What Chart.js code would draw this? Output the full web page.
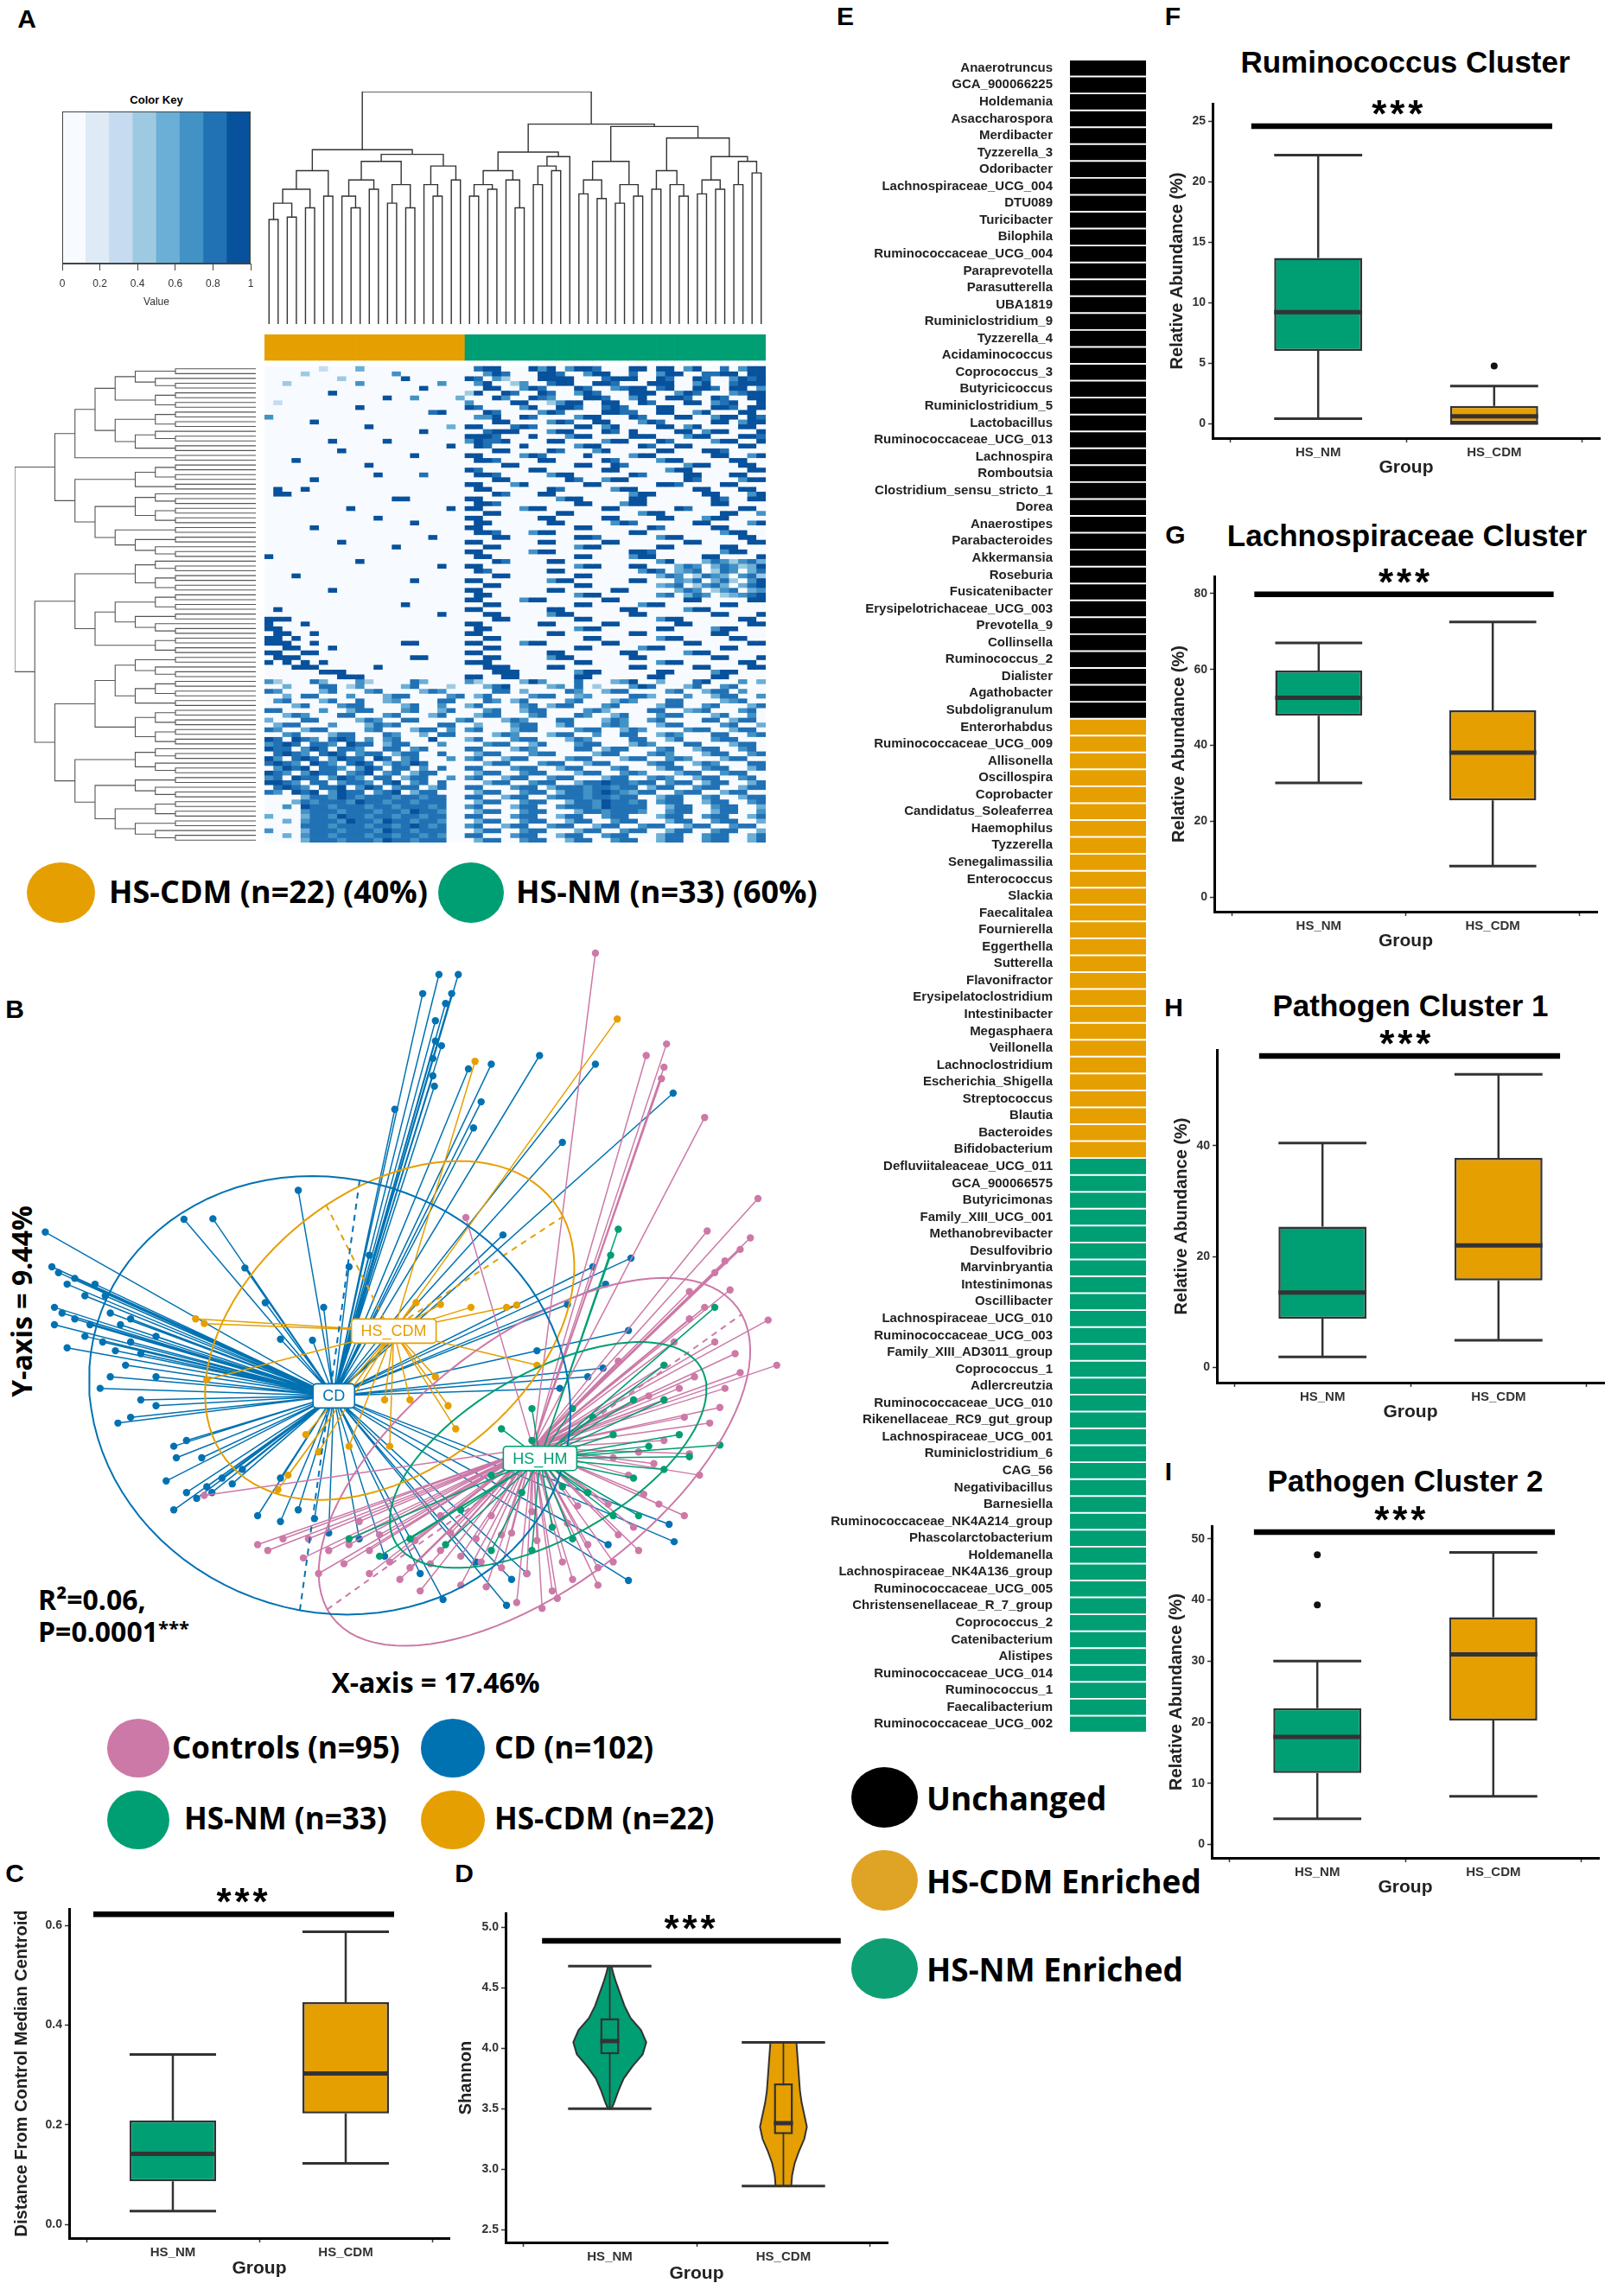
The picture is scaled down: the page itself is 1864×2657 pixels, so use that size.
<!DOCTYPE html>
<html lang="en">
<head>
<meta charset="utf-8">
<title>HS-CDM / HS-NM microbiome figure</title>
<script src="https://cdn.jsdelivr.net/npm/chart.js@4.4.1/dist/chart.umd.min.js"></script>
<style>
  html, body { margin: 0; padding: 0; background: #fff; }
  body { position: relative; width: 1864px; height: 2657px; overflow: hidden;
         font-family: "Liberation Sans", Arial, sans-serif; color: #000; }
  .t { position: absolute; white-space: nowrap; line-height: 1; }
  .letter { font-weight: bold; font-size: 30px; transform: translate(-50%, -50%); }
  .title { font-weight: bold; font-size: 35px; transform: translate(-50%, -50%); }
  .leg { font-family: "Open Sans", sans-serif; font-weight: 700; transform: translateY(-50%); }
  .dot { position: absolute; border-radius: 50%; }
</style>
</head>
<body>

<!-- panel letters -->
<div class="t letter" style="left:31px;top:22px">A</div>
<div class="t letter" style="left:17px;top:1168px">B</div>
<div class="t letter" style="left:17px;top:2168px">C</div>
<div class="t letter" style="left:537px;top:2168px">D</div>
<div class="t letter" style="left:978px;top:19px">E</div>
<div class="t letter" style="left:1357px;top:19px">F</div>
<div class="t letter" style="left:1360px;top:619px">G</div>
<div class="t letter" style="left:1358px;top:1166px">H</div>
<div class="t letter" style="left:1352px;top:1703px">I</div>

<!-- titles F-I -->
<div class="t title" style="left:1626px;top:71px">Ruminococcus Cluster</div>
<div class="t title" style="left:1628px;top:619px">Lachnospiraceae Cluster</div>
<div class="t title" style="left:1632px;top:1163px">Pathogen Cluster 1</div>
<div class="t title" style="left:1626px;top:1713px">Pathogen Cluster 2</div>

<!-- A: key title + legend -->
<div class="t" style="left:181px;top:115px;font-weight:bold;font-size:13px;transform:translate(-50%,-50%)">Color Key</div>
<div class="dot" style="left:31px;top:998px;width:79px;height:70px;background:#E69F00"></div>
<div class="t leg" style="left:126px;top:1032px;font-size:36px">HS-CDM (n=22) (40%)</div>
<div class="dot" style="left:507px;top:998px;width:76px;height:70px;background:#009E73"></div>
<div class="t leg" style="left:597px;top:1032px;font-size:36px">HS-NM (n=33) (60%)</div>

<!-- B: axis notes + legend -->
<div class="t leg" style="left:25px;top:1506px;font-size:32px;transform:translate(-50%,-50%) rotate(-90deg)">Y-axis = 9.44%</div>
<div class="t leg" style="left:504px;top:1947px;font-size:32px;transform:translate(-50%,-50%)">X-axis = 17.46%</div>
<div class="t leg" style="left:44px;top:1851px;font-size:32px">R²=0.06,</div>
<div class="t leg" style="left:44px;top:1888px;font-size:32px">P=0.0001<span style="font-size:22px;vertical-align:top">***</span></div>

<div class="dot" style="left:124px;top:1989px;width:72px;height:68px;background:#CC79A7"></div>
<div class="t leg" style="left:199px;top:2021px;font-size:35px">Controls (n=95)</div>
<div class="dot" style="left:487px;top:1989px;width:74px;height:68px;background:#0072B2"></div>
<div class="t leg" style="left:572px;top:2021px;font-size:35px">CD (n=102)</div>
<div class="dot" style="left:124px;top:2072px;width:72px;height:68px;background:#009E73"></div>
<div class="t leg" style="left:213px;top:2103px;font-size:35px">HS-NM (n=33)</div>
<div class="dot" style="left:487px;top:2072px;width:74px;height:68px;background:#E69F00"></div>
<div class="t leg" style="left:572px;top:2103px;font-size:35px">HS-CDM (n=22)</div>

<!-- E legend -->
<div class="dot" style="left:985px;top:2045px;width:77px;height:70px;background:#000"></div>
<div class="t leg" style="left:1072px;top:2080px;font-size:37px">Unchanged</div>
<div class="dot" style="left:985px;top:2141px;width:77px;height:70px;background:#DFA326"></div>
<div class="t leg" style="left:1072px;top:2176px;font-size:37px">HS-CDM Enriched</div>
<div class="dot" style="left:985px;top:2243px;width:77px;height:70px;background:#0E9E74"></div>
<div class="t leg" style="left:1072px;top:2278px;font-size:37px">HS-NM Enriched</div>

<script>
/* =========================================================
    DATA
========================================================= */

// groups of the box / violin panels
const groupNames = ["HS_NM", "HS_CDM"];
const groupColors = ["#009E73", "#E69F00"];

// [lower whisker, Q1, median, Q3, upper whisker]
const rumStats = [[0.4, 6.0, 9.2, 13.7, 22.2], [0.0, 0.05, 0.6, 1.45, 3.1]];
const rumOutliers = [[], [4.75]];
const rumTicks = [0, 5, 10, 15, 20, 25];

const lachStats = [[30.1, 47.8, 52.5, 59.7, 67.0], [8.2, 25.5, 38.1, 49.2, 72.5]];
const lachTicks = [0, 20, 40, 60, 80];

const path1Stats = [[1.9, 8.8, 13.5, 25.4, 40.5], [4.9, 15.7, 22.0, 37.8, 52.9]];
const path1Ticks = [0, 20, 40];

const path2Stats = [[4.2, 11.7, 17.6, 22.3, 30.0], [7.9, 20.3, 31.1, 37.2, 47.8]];
const path2Outliers = [[47.4, 39.2], []];
const path2Ticks = [0, 10, 20, 30, 40, 50];

const distStats = [[0.027, 0.087, 0.142, 0.209, 0.341], [0.123, 0.223, 0.303, 0.446, 0.587]];
const distTicks = [0, 0.2, 0.4, 0.6];

const shannonStats = [[3.50, 3.95, 4.06, 4.25, 4.68], [2.86, 3.29, 3.38, 3.71, 4.05]];
const shannonTicks = [2.5, 3.0, 3.5, 4.0, 4.5, 5.0];

// violin outlines: Shannon value and half width
const nmViolinY = [3.50, 3.55, 3.65, 3.75, 3.85, 3.95, 4.05, 4.15, 4.25, 4.35, 4.45, 4.55, 4.62, 4.68];
const nmViolinW = [0.01, 0.025, 0.05, 0.08, 0.13, 0.19, 0.21, 0.18, 0.12, 0.085, 0.06, 0.035, 0.02, 0.01];
const cdmViolinY = [2.86, 2.95, 3.05, 3.15, 3.25, 3.35, 3.45, 3.55, 3.65, 3.75, 3.85, 3.95, 4.05];
const cdmViolinW = [0.045, 0.05, 0.065, 0.09, 0.12, 0.135, 0.12, 0.105, 0.095, 0.09, 0.085, 0.08, 0.075];

// E: genus lists per enrichment class
const unchangedGenera = ["Anaerotruncus", "GCA_900066225", "Holdemania", "Asaccharospora", "Merdibacter",
  "Tyzzerella_3", "Odoribacter", "Lachnospiraceae_UCG_004", "DTU089", "Turicibacter", "Bilophila",
  "Ruminococcaceae_UCG_004", "Paraprevotella", "Parasutterella", "UBA1819", "Ruminiclostridium_9",
  "Tyzzerella_4", "Acidaminococcus", "Coprococcus_3", "Butyricicoccus", "Ruminiclostridium_5",
  "Lactobacillus", "Ruminococcaceae_UCG_013", "Lachnospira", "Romboutsia", "Clostridium_sensu_stricto_1",
  "Dorea", "Anaerostipes", "Parabacteroides", "Akkermansia", "Roseburia", "Fusicatenibacter",
  "Erysipelotrichaceae_UCG_003", "Prevotella_9", "Collinsella", "Ruminococcus_2", "Dialister",
  "Agathobacter", "Subdoligranulum"];
const cdmEnrichedGenera = ["Enterorhabdus", "Ruminococcaceae_UCG_009", "Allisonella", "Oscillospira",
  "Coprobacter", "Candidatus_Soleaferrea", "Haemophilus", "Tyzzerella", "Senegalimassilia",
  "Enterococcus", "Slackia", "Faecalitalea", "Fournierella", "Eggerthella", "Sutterella",
  "Flavonifractor", "Erysipelatoclostridium", "Intestinibacter", "Megasphaera", "Veillonella",
  "Lachnoclostridium", "Escherichia_Shigella", "Streptococcus", "Blautia", "Bacteroides",
  "Bifidobacterium"];
const nmEnrichedGenera = ["Defluviitaleaceae_UCG_011", "GCA_900066575", "Butyricimonas",
  "Family_XIII_UCG_001", "Methanobrevibacter", "Desulfovibrio", "Marvinbryantia", "Intestinimonas",
  "Oscillibacter", "Lachnospiraceae_UCG_010", "Ruminococcaceae_UCG_003", "Family_XIII_AD3011_group",
  "Coprococcus_1", "Adlercreutzia", "Ruminococcaceae_UCG_010", "Rikenellaceae_RC9_gut_group",
  "Lachnospiraceae_UCG_001", "Ruminiclostridium_6", "CAG_56", "Negativibacillus", "Barnesiella",
  "Ruminococcaceae_NK4A214_group", "Phascolarctobacterium", "Holdemanella",
  "Lachnospiraceae_NK4A136_group", "Ruminococcaceae_UCG_005", "Christensenellaceae_R_7_group",
  "Coprococcus_2", "Catenibacterium", "Alistipes", "Ruminococcaceae_UCG_014", "Ruminococcus_1",
  "Faecalibacterium", "Ruminococcaceae_UCG_002"];

// A: heatmap, 22 HS-CDM columns then 33 HS-NM columns, one digit (colour-key bin 0-7) per cell
const nCdmCols = 22, nNmCols = 33;
const heatRows = [
  "0000002000400000000000067700075705776000770770570060577",
  "0000300000000050000000005760007760057700600577006677077",
  "0000000030000007000000760530007777000677700760076005767",
  "0030000000500000000500057003500677007760007770057006777",
  "0000000000000000070000007700576000760056770670077607705",
  "0000000700000000000000370076007600576000777005760005677",
  "0000000000000700500004000750076500077600570077600760077",
  "0200000000000000000000500007700357700770076000770567007",
  "0000000000700000000000760000570077600676000770000776077",
  "0000000000000000006700007600005760000776600770057000770",
  "5000000000000000000000055700760000577000760007700577076",
  "0000070000000000000000000770000576007700057600000770577",
  "0000000000070000000040770006760000770570000770570000770",
  "0000000000000000070000006777000577000760700007705770007",
  "0000000000000000000000777600070005770000777000577000776",
  "0000000700000700000000576670000770000577000760000577007",
  "0000000000000000000070076000700000577000076007700000770",
  "0000000070000000000000000770000760005700000770007760000",
  "0000000000000000700000770000576000070000577000000770057",
  "0007000000000000000000077600007700000760000577000007700",
  "0000000000070000000000000077000000770076000000577000770",
  "0000000000000000000000760000077000000770000057700000077",
  "0000000000007000060000077600000577000000760000770007700",
  "0000070000000000000000000770000007600577000000760000577",
  "0000000000000000000000770005700000077000000776000077000",
  "0700700000000000000000077000000760000057700000077000770",
  "0770000000000000000000000760007700000000577000007700057",
  "0000000000000077000000770000000057700000770000000760077",
  "0000000000000000000000077600000000770005770000000770000",
  "0000000007000000000070770000577000000770000007600000770",
  "0000000000000000000000007700000077000000057700000077005",
  "0000000000007000000000770000007700000770000770005770000",
  "0000000000000000700000077000000770000057600000077000057",
  "0000070000000000000000770000000000770000007600000770000",
  "0000000000000000000000077600057700000000770000000057700",
  "0000000000000000007000000770000000776000000577000000770",
  "0000000070000000000000770000007700000770000000770000077",
  "0000000000000070000000007700000000577000000770000077000",
  "0000000000000000000000770000057700000000776000000057700",
  "7000000000000000000000077000000000770000577000007700007",
  "0000000000700000000000000760000770000000000570004653564",
  "0000000000000000000700770000000000577000770004650465347",
  "0000000000000000000000076000000770000000057604560365046",
  "0007000000000000000000000770000000770000000465036540563",
  "0000000000000000700000770000000577000000770005460463057",
  "0000000000000000000000007700000000770000000456035640467",
  "0000000700000000000000770000000770000077000004650356045",
  "0000000000000000000000077000000000577000000560465034567",
  "0000000000000000000000770000577000000770000000770000077",
  "0000000000000007000000007700000000770000057700000077000",
  "0700000000000000000000770000000770000007700000577000000",
  "0000000000000000000700007700000577000000770000000770007",
  "7770000000000000000000000770000000770000000577000000770",
  "7000700000000000000000770000007700000770000007700000077",
  "7700000000000000000000077000000000577000000770000577000",
  "0770070000000000000000770000000770000000770000000770000",
  "7707000000000000000000007700000000077000000577000007700",
  "7770070000000007700000770000577000000770000000770000077",
  "0077000700000000000000007700000000770000057700000077000",
  "7700770000000000000000770000000770000007700000577000000",
  "0777000000000000770000007700000577000000770000000770007",
  "7070707000000000000000777000000000770000000577000000770",
  "0007770000007000000000007770000770000000770000077000077",
  "0000007770000000000000000777000000577000000770000577000",
  "0000000077700000000000770077000000770000007700000770000",
  "5300064000530000640000530000475000600045700400067000504",
  "0040006603500004600030004670000450603000576000460056000",
  "6500004600056000046500000660400006500466000056004660500",
  "0040660005000466000056046000056600450000664000500466005",
  "0560004600600450000660006504600005600046500066000045600",
  "0004600056600004600500460000560466000560000466005600046",
  "6600005004660005600460005600466000056400006600456000560",
  "0046500066000560004600046600056000650046000566000460050",
  "4000660000465006600005600046500066000465005600006604660",
  "0466000500046560000660040005660046000565000466000056004",
  "6500466000056000466050560004660000566004650000566004660",
  "0056000466000650040660000465000466005006600465000660056",
  "7607650676050560007000460005660004650000660046000566000",
  "5676066507660466000500005660046000566000465000660004660",
  "7660576066500660560000660004650000660466000560046600560",
  "0676506760566046600600046600056600004660005650004660056",
  "7506760576607605600050560046600005660004660056500046600",
  "6765076506760465760000004660005660046600005660046500066",
  "0576706650576066050600660005660046600056000466005660046",
  "7650576605670560466000046600566000466005650004660056600",
  "5607660576506604660050560046600566000466005650046600560",
  "7765066056650670560600004660056600466766566056604660046",
  "0676506670576056604600660005660466656656604660056600466",
  "6507670576605670466000046600566046656765466005660046600",
  "0000466576566656656600660046600566656656600466005600466",
  "0004656665766566566600046600566004665766560566004660056",
  "0050766566656656665600560004660056665766660046600566004",
  "0000566656665665766500046600566000466566650056600466005",
  "4000466576656656656600660005660046600566000466005660046",
  "0040566657665766566500046600566004660056600046600566004",
  "0000666566656656765600560046600566004660056600466005660",
  "5000466656665766566600046600566000466005660046600566004",
  "0040566566656656656500660005660046600566000466005660046",
  "0000466656665766566600046600566004660056600466005660046"
];
const heatPalette = ["#F7FBFF", "#DEEBF7", "#C6DBEF", "#9ECAE1", "#6BAED6", "#4292C6", "#2171B5", "#08519C"];
const keyBins = [0.0625, 0.1875, 0.3125, 0.4375, 0.5625, 0.6875, 0.8125, 0.9375];
const keyTicks = [0, 0.2, 0.4, 0.6, 0.8, 1];

// A: column dendrogram [height, left, right], leaves = column index
const colTree = [1.0,
  [0.75,
    [0.66, [0.58, [0.52, [0.45, 0, 1], [0.46, 2, 3]], [0.50, 4, 5]], [0.55, 6, 7]],
    [0.73, [0.70, [0.62, [0.55, 8, [0.50, 9, 10]], [0.58, 11, 12]], [0.60, [0.52, 13, 14], [0.50, 15, 16]]],
           [0.68, [0.60, 17, [0.55, 18, 19]], [0.62, 20, 21]]]],
  [0.86,
    [0.74, [0.66, [0.60, [0.55, 22, 23], [0.58, 24, 25]], [0.62, 26, [0.50, 27, 28]]],
           [0.72, [0.68, [0.60, 29, 30], [0.66, 31, 32]], 33]],
    [0.85, [0.70, [0.62, [0.56, 34, 35], [0.54, 36, 37]], [0.60, [0.52, 38, 39], [0.55, 40, 41]]],
           [0.80, [0.66, [0.58, 42, 43], [0.60, 44, [0.55, 45, 46]]],
                  [0.72, [0.62, [0.56, 47, 48], [0.58, 49, 50]], [0.70, [0.60, 51, 52], [0.65, 53, 54]]]]]]
];
// A: row dendrogram topology, "." = one genus row
const rowTree =
  "((" +
  "(((((..)(.(..)))((..)(..)))(((..)(..))((.(..))(..))))(..))" +
  "((((..)(..))(..))(((.(..))((..)(..)))((..)((..)(.(..))))))" +
  ")(" +
  "(((.(..))((..)(..)))((((..)(..))((..)(.(..))))((..)(..))))" +
  "(" +
  "((((..)(.(..)))(((..)(..))(..)))(((..)(..))((..)(..))))" +
  "(((.(..))(.(..)))(((..)(.(..)))(((..)(..))((..)(.(..))))))" +
  ")))";

// B: ordination scores (x1000), [axis1, axis2]
const cdScores = [
  [207,728],[245,728],[175,695],[232,695],[220,678],[200,648],[200,613],[212,605],[195,583],[265,565],
  [310,573],[195,553],[198,535],[290,508],[120,495],[275,463],[405,588],[515,573],[668,523],[450,438],
  [-70,355],[70,243],[30,223],[-295,305],[-238,306],[-175,221],[-135,161],[-105,98],[-42,96],[-20,153],
  [333,278],[585,238],[510,223],[535,193],[460,158],[400,78],[580,113],[445,13],[530,48],[500,33],
  [-568,283],[-555,223],[-542,213],[-510,203],[-525,193],[-490,173],[-470,193],[-450,173],[-550,153],
  [-535,143],[-510,133],[-480,123],[-440,143],[-420,123],[-400,133],[-550,123],[-525,83],[-490,103],[-455,93],
  [-430,78],[-400,93],[-380,73],[-350,103],[-410,53],[-440,33],[-460,13],[-380,-7],
  [-350,33],[-425,-47],[-400,-37],[-350,-17],[-315,-87],[-310,-107],[-290,-77],[-260,-107],[-330,-147],[-290,-167],
  [-250,-157],[-220,-142],[-180,-127],[-315,-197],[-270,-177],[-240,-167],[-200,-152],[-105,-142],[-150,-207],[-105,-217],
  [-70,-197],[-38,-212],[-10,-237],[50,-247],[100,-277],[170,-307],[215,-352],[340,-362],[280,-287],[350,-317],
  [380,-307],[580,-319],[660,-222],[670,-252],[540,-257]
];
const ctrlScores = [
  [515,765],[655,608],[615,588],[650,568],[730,481],[645,548],[835,341],[735,285],[820,273],[800,253],
  [770,233],[750,213],[855,131],[872,53],[780,183],[730,153],[700,133],[670,93],[650,53],[750,93],
  [790,73],[710,33],[770,13],[650,-7],[690,-37],[740,-47],[650,-77],[600,-97],[550,-107],[720,-137],
  [690,-207],[640,-187],[590,-227],[600,-267],[550,-287],[520,-327],[470,-317],[430,-337],[380,-307],[330,-297],
  [290,-287],[250,-277],[210,-267],[170,-337],[150,-297],[110,-287],[70,-267],[30,-257],[-10,-267],[-50,-247],
  [-100,-247],[-130,-267],[-150,-257],[-255,-172],[260,308],[350,-237],[310,-207],[280,-247],[230,-237],[50,-217],
  [70,-307],[130,-317],[450,-287],[500,-257],[540,-187],[580,-137],[630,-117],[680,13],[410,-367],[360,-357],
  [250,-327],[-30,-307],[210,-207],[520,-297],[400,-250],[460,-220],[330,-240],[190,-290],[90,-240],[20,-290],
  [560,-240],[610,-170],[480,-190],[390,-200],[300,-330],[440,-350],[160,-250],[-60,-280],[700,-100],[760,-20],
  [800,40],[620,0],[560,60],[700,180]
];
const nmScores = [
  [560,288],[545,243],[750,153],[760,-85],[700,-105],[650,-127],[590,-142],[620,-87],[680,-67],[550,-67],
  [590,-7],[650,-7],[510,-37],[470,-22],[390,-22],[330,-57],[430,-227],[390,-267],[220,-257],[150,-247],
  [90,-277],[30,-247],[310,-267],[500,-167],[550,-207],[450,-157],[370,-167],[250,-197],[600,-207],[470,-247],
  [310,-137],[390,-77],[650,53]
];
const cdmScores = [
  [558,651],[278,578],[-272,133],[-255,125],[360,157],[340,153],[270,153],[210,158],[400,53],[162,161],
  [-250,28],[225,-17],[240,-57],[200,33],[150,-7],[100,-7],[110,-87],[30,-87],[-30,-97],[-110,-162],
  [-55,-67],[-90,-137]
];
const cdCentroid = [0, 0];
const cdmCentroid = [118, 112];
const nmCentroid = [406, -108];
const ctrlCentroid = [392, -90];
// ellipses: [centre x, centre y, semi-major, semi-minor, angle deg]
const cdEllipse = [-8, 1, 476, 376, -9];
const cdmEllipse = [110, 113, 394, 250, 30];
const ctrlEllipse = [395, -114, 481, 224, 32];
const nmEllipse = [422, -102, 337, 147, 25];

/* =========================================================
    HELPERS
========================================================= */

Chart.defaults.font.family = '"Liberation Sans", Arial, sans-serif';
Chart.defaults.color = "#222";
Chart.defaults.animation = false;
Chart.defaults.plugins.legend.display = false;
Chart.defaults.plugins.tooltip.enabled = false;

const GAP = () => ({ x: null, y: null });
const seg = (x1, y1, x2, y2) => [{ x: x1, y: y1 }, { x: x2, y: y2 }, GAP()];

function makeCanvas(left, top, w, h) {
  const c = document.createElement("canvas");
  c.width = w;
  c.height = h;
  c.style.cssText = `position:absolute;left:${left}px;top:${top}px;width:${w}px;height:${h}px`;
  document.body.appendChild(c);
  return c;
}

// "***" over the significance bar
const starsPlugin = {
  id: "stars",
  afterDatasetsDraw(chart, args, opts) {
    if (!opts || opts.x === undefined) return;
    const { ctx, scales: { x, y } } = chart;
    const px = x.getPixelForValue(opts.x), py = y.getPixelForValue(opts.y);
    ctx.save();
    ctx.fillStyle = "#000";
    ctx.font = 'bold 44px "Liberation Sans", Arial, sans-serif';
    ctx.textAlign = "center";
    ctx.textBaseline = "alphabetic";
    [-21, 0, 21].forEach(dx => ctx.fillText("*", px + dx, py + 1));
    ctx.restore();
  }
};

function violinPath(cx, ys, ws) {
  const left = ys.map((y, i) => ({ x: cx - ws[i], y }));
  const right = ys.map((y, i) => ({ x: cx + ws[i], y })).reverse();
  return [...left, ...right, left[0]];
}

function axisStyle() {
  return {
    grid: { display: true, drawOnChartArea: false, tickLength: 5, color: "#333", tickWidth: 1.5 },
    border: { display: true, color: "#000", width: 3 }
  };
}

// box plot (or violin + small box) panel
function boxPanel(o) {
  const T = 40, R = 10, a = o.area;
  const cv = makeCanvas(a.x - o.L, a.y - T, o.L + a.w + R, T + a.h + o.B);
  const half = o.violins ? 0.055 : 0.25;
  const capHalf = o.violins ? 0.24 : 0.25;
  const whisk = [], caps = [], meds = [], outs = [];

  o.stats.forEach((s, g) => {
    const x = g + 1;
    if (o.violins) whisk.push(...seg(x, s[0], x, s[4]));
    else whisk.push(...seg(x, s[3], x, s[4]), ...seg(x, s[1], x, s[0]));
    caps.push(...seg(x - capHalf, s[4], x + capHalf, s[4]), ...seg(x - capHalf, s[0], x + capHalf, s[0]));
    meds.push(...seg(x - half, s[2], x + half, s[2]));
    (o.outliers ? o.outliers[g] : []).forEach(v => outs.push({ x, y: v }));
  });

  const line = (data, w, order, extra) => Object.assign({
    type: "line", data, borderColor: "#333", borderWidth: w, pointRadius: 0, spanGaps: false, fill: false, order
  }, extra || {});

  const datasets = [];
  if (o.violins) {
    o.violins.forEach((v, g) => datasets.push(
      line(violinPath(g + 1, v[0], v[1]), 2, 6, { fill: "shape", backgroundColor: groupColors[g] })));
  }
  datasets.push(line(whisk, o.violins ? 1.8 : 2.5, 5));
  datasets.push(line(caps, 3, 5));
  datasets.push({
    type: "bar",
    data: o.stats.map((s, g) => ({ x: g + 1, y: [s[1], s[3]] })),
    backgroundColor: groupColors, borderColor: "#333", borderWidth: 2.5, borderSkipped: false,
    barPercentage: half * 2, categoryPercentage: 1, order: 3
  });
  datasets.push(line(meds, 5, 2));
  if (outs.length) {
    datasets.push({ type: "scatter", data: outs, pointRadius: 4, backgroundColor: "#111", borderWidth: 0, order: 1 });
  }
  datasets.push(line(seg(o.sig[0], o.sig[2], o.sig[1], o.sig[2]), 6.5, 0, { borderColor: "#000" }));

  new Chart(cv, {
    type: "scatter",
    data: { datasets },
    options: {
      responsive: false,
      events: [],
      layout: { padding: { top: T, right: R, left: 0, bottom: 0 } },
      plugins: { stars: { x: o.sig[3], y: o.sig[2] } },
      scales: {
        x: Object.assign({
          type: "linear", min: 0.4, max: 2.6, offset: false,
          afterBuildTicks: s => { s.ticks = [{ value: 1 }, { value: 2 }]; },
          afterFit: s => { s.height = o.B; },
          ticks: { callback: v => groupNames[Math.round(v) - 1], font: { size: 15, weight: "bold" },
                   color: "#333", padding: 3, maxRotation: 0 },
          title: { display: true, text: "Group", font: { size: 21, weight: "bold" }, color: "#222",
                   padding: { top: 0, bottom: o.xTitlePad } }
        }, axisStyle()),
        y: Object.assign({
          type: "linear", min: o.yMin, max: o.yMax,
          afterBuildTicks: s => { s.ticks = o.ticks.map(v => ({ value: v })); },
          afterFit: s => { s.width = o.L; },
          ticks: { callback: v => o.decimals ? v.toFixed(1) : String(v), font: { size: 14, weight: "bold" },
                   color: "#333", padding: 3 },
          title: { display: true, text: o.yTitle, font: { size: 20, weight: "bold" }, color: "#222",
                   padding: { top: o.yTitlePad, bottom: 0 } }
        }, axisStyle())
      }
    },
    plugins: [starsPlugin]
  });
}

// dendrogram polylines from a [height, left, right] tree
function treeSegments(node, out) {
  if (typeof node === "number") return { p: node, h: 0 };
  const a = treeSegments(node[1], out);
  const b = treeSegments(node[2], out);
  out.push([a.p, a.h], [a.p, node[0]], [b.p, node[0]], [b.p, b.h], null);
  return { p: (a.p + b.p) / 2, h: node[0] };
}

function parseTree(str) {
  let i = 0, leaf = 0;
  function node() {
    if (str[i] === ".") { i++; return leaf++; }
    i++;
    const kids = [];
    while (str[i] !== ")") kids.push(node());
    i++;
    return kids.reduce((acc, k) => [0, acc, k]);
  }
  const root = node();
  return { root, leaves: leaf };
}

// merge heights stacked from the leaves up
function stackHeights(n) {
  if (typeof n === "number") return 0;
  n[0] = Math.max(stackHeights(n[1]), stackHeights(n[2]), 3) + 1;
  return n[0];
}

/* =========================================================
    A: HEATMAP WITH DENDROGRAMS
========================================================= */
const nCols = nCdmCols + nNmCols;
const colLabels = Array.from({ length: nCols }, (_, i) => String(i));

// colour key
new Chart(makeCanvas(60, 129, 242, 238), {
  type: "bar",
  data: { datasets: [{ data: keyBins.map(b => ({ x: b, y: 1 })), backgroundColor: heatPalette,
                       barPercentage: 1, categoryPercentage: 1, borderWidth: 0 }] },
  options: {
    responsive: false, events: [],
    layout: { padding: { left: 12, right: 12, top: 0, bottom: 0 } },
    scales: {
      x: {
        type: "linear", min: 0, max: 1, offset: false,
        afterBuildTicks: s => { s.ticks = keyTicks.map(v => ({ value: v })); },
        afterFit: s => { s.height = 62; },
        ticks: { callback: v => (v === 0 || v === 1) ? String(v) : v.toFixed(1), font: { size: 12 }, color: "#333", padding: 8, maxRotation: 0 },
        grid: { display: true, drawOnChartArea: false, tickLength: 8, color: "#444", offset: false },
        border: { display: true, color: "#444", width: 1 },
        title: { display: true, text: "Value", font: { size: 12 }, color: "#333", padding: { top: 0, bottom: 10 } }
      },
      y: { display: false, min: 0, max: 1 }
    }
  },
  plugins: [{
    id: "frame",
    afterDatasetsDraw(chart) {
      const { ctx, chartArea: c } = chart;
      ctx.save();
      ctx.strokeStyle = "#444";
      ctx.lineWidth = 1;
      ctx.strokeRect(c.left + 0.5, c.top + 0.5, c.width - 1, c.height - 1);
      ctx.restore();
    }
  }]
});

// column dendrogram
const colSegs = [];
treeSegments(colTree, colSegs);
new Chart(makeCanvas(306, 100, 580, 280), {
  type: "scatter",
  data: { datasets: [{ type: "line", data: colSegs.map(s => s ? { x: s[0], y: s[1] } : GAP()),
                       borderColor: "#333", borderWidth: 1.4, pointRadius: 0, spanGaps: false }] },
  options: {
    responsive: false, events: [],
    layout: { padding: { top: 6, bottom: 5, left: 0, right: 0 } },
    scales: { x: { display: false, min: -0.5, max: nCols - 0.5 }, y: { display: false, min: 0, max: 1 } }
  }
});

// row dendrogram
const rowParsed = parseTree(rowTree);
const rowTop = stackHeights(rowParsed.root);
const rowSegs = [];
treeSegments(rowParsed.root, rowSegs);
new Chart(makeCanvas(12, 424, 284, 551), {
  type: "scatter",
  data: { datasets: [{ type: "line", data: rowSegs.map(s => s ? { x: s[1], y: s[0] } : GAP()),
                       borderColor: "#555", borderWidth: 1.1, pointRadius: 0, spanGaps: false }] },
  options: {
    responsive: false, events: [],
    layout: { padding: { left: 5, right: 0, top: 0, bottom: 0 } },
    scales: {
      x: { display: false, min: 0, max: rowTop, reverse: true },
      y: { display: false, min: -0.5, max: rowParsed.leaves - 0.5, reverse: true }
    }
  }
});

// heatmap cells + group colour bar
const heatSets = [{
  data: colLabels.map(() => [-6.65, -1.26]),
  backgroundColor: colLabels.map((_, i) => i < nCdmCols ? groupColors[1] : groupColors[0])
}];
heatRows.forEach((row, r) => {
  const cells = row.padEnd(nCols, "0").slice(0, nCols);
  heatSets.push({
    data: colLabels.map(() => [r, r + 1]),
    backgroundColor: cells.split("").map(ch => heatPalette[Math.min(7, +ch || 0)])
  });
});
new Chart(makeCanvas(306, 387, 580, 588), {
  type: "bar",
  data: { labels: colLabels, datasets: heatSets },
  options: {
    responsive: false, events: [],
    datasets: { bar: { grouped: false, barPercentage: 1, categoryPercentage: 1, borderWidth: 0 } },
    layout: { padding: 0 },
    scales: {
      x: { display: false },
      y: { display: false, min: -6.65, max: heatRows.length, reverse: true }
    }
  }
});

/* =========================================================
    B: ORDINATION SPIDER PLOT
========================================================= */
function spider(scores, c) {
  const out = [];
  scores.forEach(p => out.push({ x: c[0], y: c[1] }, { x: p[0], y: p[1] }, GAP()));
  return out;
}
function ellipsePath(e) {
  const r = e[4] * Math.PI / 180, pts = [];
  for (let k = 0; k <= 96; k++) {
    const t = k / 96 * 2 * Math.PI;
    const ex = e[2] * Math.cos(t), ey = e[3] * Math.sin(t);
    pts.push({ x: e[0] + ex * Math.cos(r) - ey * Math.sin(r), y: e[1] + ex * Math.sin(r) + ey * Math.cos(r) });
  }
  return pts;
}
function axisEnd(e, major, sign) {
  const r = e[4] * Math.PI / 180;
  const len = major ? e[2] : e[3];
  const dx = major ? Math.cos(r) : -Math.sin(r), dy = major ? Math.sin(r) : Math.cos(r);
  return { x: e[0] + sign * len * dx, y: e[1] + sign * len * dy };
}

const bGroups = [
  { scores: cdScores, c: cdCentroid, color: "#0072B2", order: 9 },
  { scores: ctrlScores, c: ctrlCentroid, color: "#CC79A7", order: 7 },
  { scores: nmScores, c: nmCentroid, color: "#009E73", order: 5 },
  { scores: cdmScores, c: cdmCentroid, color: "#E69F00", order: 3 }
];
const bSets = [];
bGroups.forEach(g => {
  bSets.push({ type: "line", data: spider(g.scores, g.c), borderColor: g.color, borderWidth: 1.5,
               pointRadius: 0, spanGaps: false, order: g.order });
  bSets.push({ type: "scatter", data: g.scores.map(p => ({ x: p[0], y: p[1] })), pointRadius: 4.2,
               backgroundColor: g.color, borderWidth: 0, order: g.order - 1 });
});
[[cdEllipse, "#0072B2"], [cdmEllipse, "#E69F00"], [ctrlEllipse, "#CC79A7"], [nmEllipse, "#009E73"]].forEach(([e, col]) => {
  bSets.push({ type: "line", data: ellipsePath(e), borderColor: col, borderWidth: 2, pointRadius: 0, order: 1 });
});
const cdmC = { x: cdmEllipse[0], y: cdmEllipse[1] };
const ctrlC = { x: ctrlEllipse[0], y: ctrlEllipse[1] };
[
  [[axisEnd(cdEllipse, false, -1), axisEnd(cdEllipse, false, 1)], "#0072B2"],
  [[cdmC, axisEnd(cdmEllipse, true, 1)], "#E69F00"],
  [[cdmC, axisEnd(cdmEllipse, false, 1)], "#E69F00"],
  [[axisEnd(ctrlEllipse, true, -1), ctrlC, axisEnd(ctrlEllipse, true, 1)], "#CC79A7"]
].forEach(([pts, col]) => {
  bSets.push({ type: "line", data: pts, borderColor: col, borderWidth: 2, borderDash: [7, 6], pointRadius: 0, order: 1 });
});

const centroidTags = [
  { text: "CD", at: cdCentroid, color: "#0072B2" },
  { text: "HS_CDM", at: cdmCentroid, color: "#E69F00" },
  { text: "HS_HM", at: nmCentroid, color: "#009E73" }
];
new Chart(makeCanvas(0, 1080, 930, 920), {
  type: "scatter",
  data: { datasets: bSets },
  options: {
    responsive: false, events: [],
    layout: { padding: 0 },
    scales: { x: { display: false, min: -650, max: 918 }, y: { display: false, min: -568, max: 793 } }
  },
  plugins: [{
    id: "centroidTags",
    afterDatasetsDraw(chart) {
      const { ctx, scales: { x, y } } = chart;
      ctx.save();
      ctx.font = '18px "Liberation Sans", Arial, sans-serif';
      ctx.textAlign = "center";
      ctx.textBaseline = "middle";
      centroidTags.forEach(t => {
        const px = x.getPixelForValue(t.at[0]), py = y.getPixelForValue(t.at[1]);
        const w = ctx.measureText(t.text).width + 22, h = 28;
        ctx.fillStyle = "#fff";
        ctx.strokeStyle = t.color;
        ctx.lineWidth = 1.6;
        ctx.beginPath();
        if (ctx.roundRect) ctx.roundRect(px - w / 2, py - h / 2, w, h, 4);
        else ctx.rect(px - w / 2, py - h / 2, w, h);
        ctx.fill();
        ctx.stroke();
        ctx.fillStyle = t.color;
        ctx.fillText(t.text, px, py + 1);
      });
      ctx.restore();
    }
  }]
});

/* =========================================================
    E: ENRICHMENT CLASS BAR
========================================================= */
const eLabels = [...unchangedGenera, ...cdmEnrichedGenera, ...nmEnrichedGenera];
const eColors = eLabels.map((_, i) =>
  i < unchangedGenera.length ? "#000000" :
  i < unchangedGenera.length + cdmEnrichedGenera.length ? "#E69F00" : "#009E73");
new Chart(makeCanvas(930, 40, 396, 1994), {
  type: "bar",
  data: { labels: eLabels, datasets: [{ data: eLabels.map(() => 1), backgroundColor: eColors,
                                        barPercentage: 1, categoryPercentage: 0.9, borderWidth: 0 }] },
  options: {
    indexAxis: "y",
    responsive: false, events: [],
    layout: { padding: 0 },
    scales: {
      x: { display: false, min: 0, max: 1 },
      y: {
        afterFit: s => { s.width = 308; },
        ticks: { autoSkip: false, font: { size: 15, weight: "bold" }, color: "#222", padding: 20 },
        grid: { display: false, drawTicks: false },
        border: { display: false }
      }
    }
  }
});

/* =========================================================
    C, D, F, G, H, I
========================================================= */
boxPanel({ area: { x: 1403, y: 120, w: 448, h: 387 }, L: 62, B: 56, xTitlePad: 9, yTitlePad: 9,
           stats: rumStats, outliers: rumOutliers, ticks: rumTicks, yMin: -1.21, yMax: 26.45,
           sig: [0.62, 2.33, 24.6, 1.45], yTitle: "Relative Abundance (%)" });
boxPanel({ area: { x: 1405, y: 667, w: 443, h: 388 }, L: 62, B: 56, xTitlePad: 9, yTitlePad: 9,
           stats: lachStats, ticks: lachTicks, yMin: -3.8, yMax: 84.5,
           sig: [0.63, 2.35, 79.8, 1.49], yTitle: "Relative Abundance (%)" });
boxPanel({ area: { x: 1408, y: 1215, w: 448, h: 385 }, L: 62, B: 56, xTitlePad: 9, yTitlePad: 9,
           stats: path1Stats, ticks: path1Ticks, yMin: -2.75, yMax: 57.3,
           sig: [0.64, 2.35, 56.2, 1.47], yTitle: "Relative Abundance (%)" });
boxPanel({ area: { x: 1402, y: 1766, w: 448, h: 384 }, L: 62, B: 56, xTitlePad: 9, yTitlePad: 9,
           stats: path2Stats, outliers: path2Outliers, ticks: path2Ticks, yMin: -2.18, yMax: 52.1,
           sig: [0.64, 2.35, 51.1, 1.47], yTitle: "Relative Abundance (%)" });
boxPanel({ area: { x: 80, y: 2209, w: 440, h: 381 }, L: 78, B: 60, xTitlePad: 12, yTitlePad: 11,
           stats: distStats, ticks: distTicks, yMin: -0.027, yMax: 0.633, decimals: true,
           sig: [0.54, 2.28, 0.622, 1.40], yTitle: "Distance From Control Median Centroid" });
boxPanel({ area: { x: 585, y: 2214, w: 442, h: 381 }, L: 70, B: 60, xTitlePad: 11, yTitlePad: 12,
           stats: shannonStats, ticks: shannonTicks, yMin: 2.394, yMax: 5.118, decimals: true,
           violins: [[nmViolinY, nmViolinW], [cdmViolinY, cdmViolinW]],
           sig: [0.61, 2.33, 4.89, 1.46], yTitle: "Shannon" });
</script>
</body>
</html>
